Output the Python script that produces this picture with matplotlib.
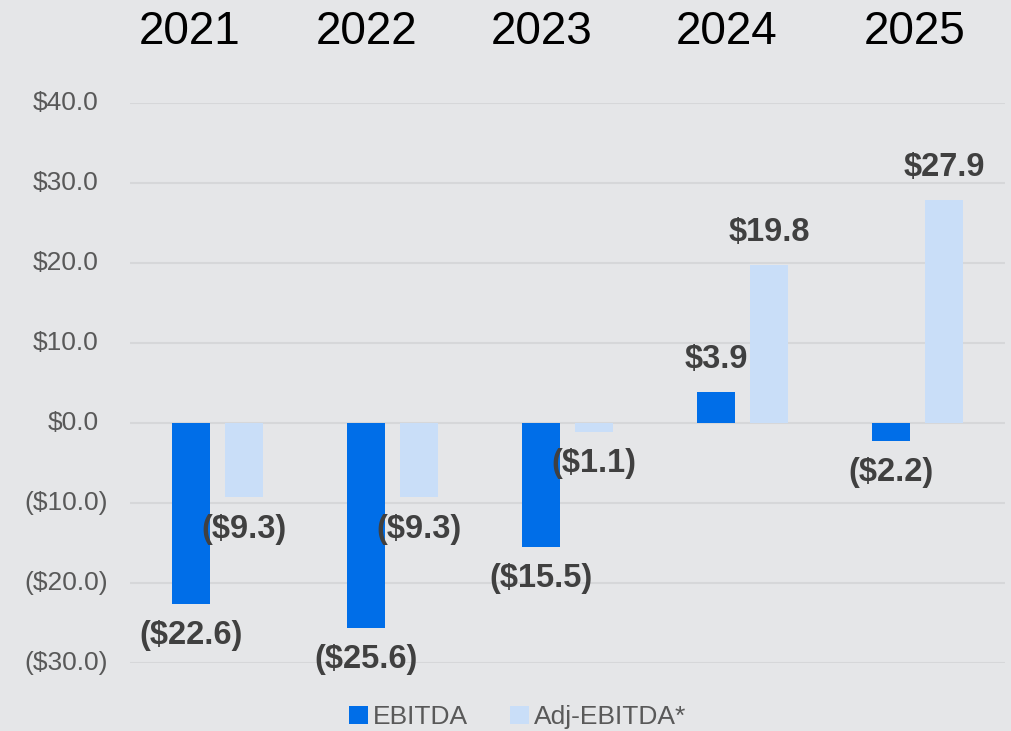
import matplotlib.pyplot as plt
import numpy as np

years = ["2021", "2022", "2023", "2024", "2025"]
ebitda = [-22.6, -25.6, -15.5, 3.9, -2.2]
adj_ebitda = [-9.3, -9.3, -1.1, 19.8, 27.9]
yticks = [-30, -20, -10, 0, 10, 20, 30, 40]

# year header positions (slide text boxes, in category units)
year_x = [-0.157, 0.854, 1.854, 2.911, 3.986]

BLUE = "#006ee8"
LIGHT = "#c9def8"
BG = "#e5e6e8"

plt.rcParams["font.family"] = ["Liberation Sans", "DejaVu Sans"]

fig = plt.figure(figsize=(10.12, 7.31), dpi=100, facecolor=BG)
ax = fig.add_axes([130 / 1012, 68 / 731, 875 / 1012, 560 / 731])
ax.set_facecolor("none")

x = np.arange(len(years))
w = 0.217
off = 0.151
b1 = ax.bar(x - off, ebitda, w, color=BLUE, label="EBITDA", zorder=2)
b2 = ax.bar(x + off, adj_ebitda, w, color=LIGHT, label="Adj-EBITDA*", zorder=2)


def fmt(v):
    return f"${v:.1f}" if v >= 0 else f"(${-v:.1f})"


for bars, vals in [(b1, ebitda), (b2, adj_ebitda)]:
    for rect, v in zip(bars, vals):
        ax.annotate(fmt(v), (rect.get_x() + rect.get_width() / 2, v),
                    xytext=(0, 23 if v >= 0 else -23), textcoords="offset points",
                    ha="center", va="center", fontsize=23.5, fontweight="bold",
                    color="#404040", annotation_clip=False, zorder=3)

ax.set_xlim(-0.5, len(years) - 0.5)
ax.set_ylim(-30, 40)
ax.set_yticks(yticks)
ax.set_yticklabels([])
ax.tick_params(axis="y", length=0)
ax.set_xticks([])
ax.grid(axis="y", color="#d6d7d9", linewidth=1.5, zorder=0)
for s in ax.spines.values():
    s.set_visible(False)

# accounting-style tick labels: ")" hangs past the right edge of the numbers
for t in yticks:
    ax.annotate(fmt(float(t)), (0, t), xycoords=ax.get_yaxis_transform(),
                xytext=(-22.5 if t >= 0 else -16.2, 0), textcoords="offset points",
                ha="right", va="center", fontsize=19, color="#595959",
                annotation_clip=False)

for xp, yr in zip(year_x, years):
    ax.text(xp, 1 + 71 / 560, yr, transform=ax.get_xaxis_transform(), ha="center",
            va="center", fontsize=33, color="black")

ax.legend(loc="center", bbox_to_anchor=(518 / 1012, 14 / 731), bbox_transform=fig.transFigure,
          ncol=2, frameon=False, fontsize=19, labelcolor="#595959",
          handlelength=0.7, handleheight=0.7, handletextpad=0.2, columnspacing=1.6)

fig.savefig("out.png", dpi=100, facecolor=BG)
